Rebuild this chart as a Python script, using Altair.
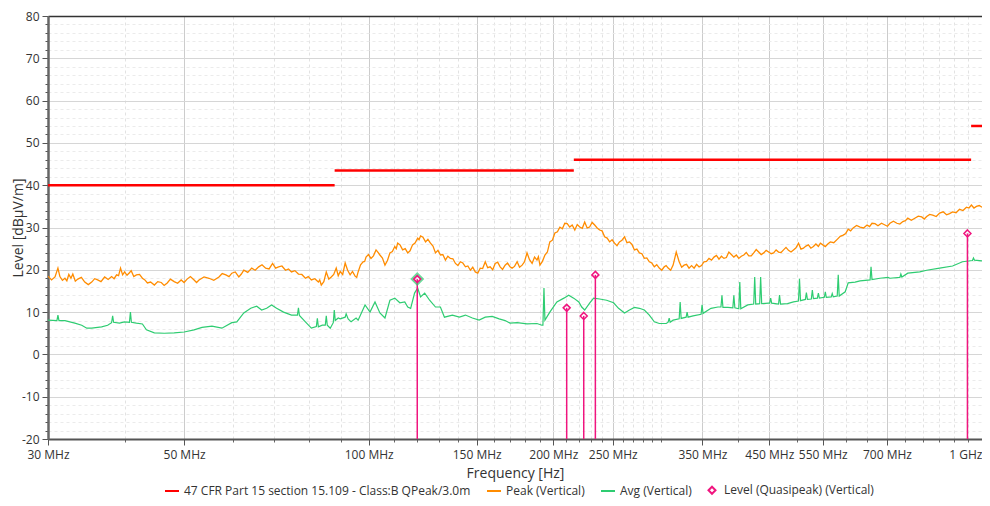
import altair as alt
import pandas as pd

# ---------------- series names / styles ----------------
S_LIM = "47 CFR Part 15 section 15.109 - Class:B QPeak/3.0m"
S_PK = "Peak (Vertical)"
S_AV = "Avg (Vertical)"
S_QP = "Level (Quasipeak) (Vertical)"
series_names = [S_LIM, S_PK, S_AV, S_QP]
series_colors = ["#ff0000", "#ff8c00", "#2ecc71", "#f0157f"]
series_shapes = ["stroke", "stroke", "stroke", "M0,-0.5L0.5,0L0,0.5L-0.5,0Z"]

# ---------------- limit line (MHz, dBuV/m) ----------------
limit_start = [30, 88, 216, 960]
limit_end = [88, 216, 960, 1000]
limit_level = [40.0, 43.5, 46.0, 54.0]

# ---------------- Peak trace (MHz / dBuV/m) ----------------
peak_freq = [
    30.0, 30.4, 30.8, 31.14, 31.37, 31.67, 31.97, 32.2, 32.44, 32.7,
    32.93, 33.24, 33.55, 34.0, 34.44, 34.9, 35.35, 35.75, 36.15, 36.6,
    37.11, 37.6, 38.09, 38.45, 38.81, 39.1, 39.39, 39.7, 40.0, 40.36,
    40.73, 41.0, 41.4, 41.81, 42.3, 42.76, 43.16, 43.57, 44.1, 44.72,
    45.3, 45.9, 46.4, 46.94, 47.5, 48.18, 48.8, 49.46, 50.0, 50.58,
    51.2, 51.92, 52.4, 52.89, 53.9, 54.91, 55.9, 57.0, 57.7, 58.5,
    59.2, 59.82, 60.6, 61.41, 62.0, 62.57, 63.5, 64.46, 65.3, 66.17,
    67.0, 67.92, 68.8, 69.71, 70.5, 71.3, 72.2, 73.18, 74.0, 74.84,
    75.8, 76.82, 77.8, 78.85, 79.7, 80.64, 81.7, 82.78, 83.2, 83.7,
    84.5, 85.28, 86.1, 86.88, 87.7, 88.53, 89.2, 89.86, 90.7, 91.55,
    92.4, 93.27, 94.1, 95.02, 95.6, 96.11, 97.0, 97.92, 98.5, 99.01,
    99.9, 100.87, 101.8, 102.8, 103.5, 104.3, 105.3, 106.3, 107.3, 108.3,
    109.3, 110.3, 110.9, 111.5, 112.5, 113.6, 114.7, 115.8, 116.8, 117.9,
    119.0, 120.2, 120.8, 121.5, 122.6, 123.8, 124.9, 126.1, 127.3, 128.5,
    129.7, 130.9, 132.1, 133.4, 134.6, 135.9, 137.2, 138.5, 139.8, 141.1,
    142.4, 143.8, 145.1, 146.5, 147.8, 149.2, 150.6, 152.0, 153.4, 154.9,
    156.3, 157.8, 159.3, 160.8, 162.3, 163.8, 165.3, 166.9, 168.4, 170.0,
    171.3, 172.9, 174.6, 176.2, 177.9, 179.5, 181.2, 182.9, 184.7, 186.4,
    188.1, 189.1, 190.2, 192.0, 193.8, 195.6, 197.4, 199.3, 201.2, 203.1,
    205.0, 206.9, 208.8, 210.7, 212.7, 214.7, 216.8, 218.8, 220.9, 223.0,
    225.0, 227.1, 229.2, 231.4, 233.6, 235.8, 238.0, 240.2, 242.5, 244.8,
    247.1, 249.4, 251.7, 254.0, 256.4, 258.8, 261.3, 263.7, 266.2, 268.7,
    271.2, 273.7, 276.3, 278.9, 281.5, 284.1, 286.8, 289.5, 292.2, 294.9,
    297.7, 300.5, 303.3, 305.5, 307.8, 310.7, 313.6, 317.3, 320.8, 323.8,
    326.8, 329.8, 332.9, 336.1, 339.3, 342.5, 345.7, 348.9, 352.2, 355.5,
    358.8, 362.2, 365.6, 369.0, 372.5, 376.0, 379.5, 383.0, 386.6, 390.2,
    393.9, 397.6, 401.3, 405.1, 408.9, 412.7, 416.6, 420.5, 424.4, 428.4,
    432.4, 436.5, 440.6, 444.7, 448.9, 453.1, 457.3, 461.6, 465.9, 470.3,
    474.7, 479.1, 483.6, 488.2, 492.8, 497.4, 502.1, 506.8, 511.5, 516.3,
    521.1, 526.0, 531.0, 536.0, 541.0, 545.1, 550.2, 555.3, 560.5, 565.8,
    573.2, 580.7, 587.3, 593.9, 599.5, 605.1, 610.7, 616.4, 624.5, 632.7,
    641.1, 649.5, 655.6, 661.7, 669.2, 676.7, 685.7, 694.7, 701.2, 707.8,
    717.1, 726.4, 734.6, 742.9, 749.9, 756.9, 766.9, 777.0, 787.2, 797.5,
    805.0, 812.5, 821.7, 831.0, 842.0, 853.0, 864.2, 875.5, 885.4, 895.4,
    907.2, 919.1, 931.1, 943.3, 952.2, 961.1, 970.2, 979.3, 989.6, 1000.0,
]
peak_level = [
    18.5, 17.6, 18.3, 20.4, 18.4, 17.5, 18.0, 17.4, 18.9, 18.0,
    19.0, 17.3, 17.8, 18.2, 17.1, 16.5, 17.1, 17.9, 17.6, 17.2,
    18.3, 17.7, 18.4, 17.9, 18.8, 18.6, 20.4, 18.8, 19.5, 18.7,
    19.3, 19.8, 18.4, 18.8, 18.9, 18.0, 17.6, 16.9, 17.1, 16.4,
    17.2, 17.0, 16.3, 16.9, 17.8, 17.2, 16.8, 17.6, 17.0, 17.8,
    18.4, 17.6, 17.0, 17.6, 18.3, 18.0, 17.5, 18.3, 19.1, 18.8,
    18.4, 19.2, 19.5, 18.3, 19.0, 19.9, 19.4, 20.4, 19.9, 20.7,
    21.2, 20.4, 20.2, 21.5, 20.4, 20.7, 20.9, 19.9, 20.2, 19.5,
    19.8, 19.0, 18.9, 18.0, 18.4, 17.6, 17.9, 17.1, 17.6, 16.4,
    17.2, 19.5, 17.8, 18.3, 18.9, 20.4, 18.6, 19.6, 18.9, 21.6,
    19.9, 18.8, 19.6, 18.5, 18.2, 19.5, 21.2, 21.9, 22.0, 23.0,
    23.6, 22.7, 23.3, 24.7, 24.2, 23.5, 22.8, 21.1, 22.2, 24.0,
    24.3, 25.5, 25.0, 26.3, 25.9, 24.7, 25.0, 24.0, 24.5, 25.9,
    26.3, 27.5, 27.1, 28.0, 27.7, 26.6, 27.2, 26.3, 25.6, 24.0,
    24.6, 23.5, 23.6, 22.3, 23.2, 22.7, 22.6, 21.5, 21.0, 21.9,
    21.6, 20.7, 20.9, 19.9, 20.6, 19.5, 19.2, 20.4, 20.3, 21.9,
    20.5, 20.7, 20.0, 21.5, 21.8, 20.7, 20.1, 21.1, 21.6, 20.7,
    20.4, 20.8, 21.9, 20.6, 21.1, 21.9, 24.0, 22.4, 21.5, 23.0,
    22.3, 23.1, 21.1, 22.0, 23.5, 24.2, 26.6, 27.0, 28.7, 29.0,
    30.1, 29.7, 31.0, 30.9, 30.1, 30.6, 29.4, 30.7, 30.1, 29.8,
    31.3, 29.9, 30.1, 31.2, 30.6, 29.9, 29.4, 29.2, 27.8, 27.5,
    26.6, 27.1, 26.3, 25.7, 26.6, 27.0, 27.8, 26.4, 26.6, 26.0,
    24.7, 24.9, 24.0, 23.8, 22.7, 22.8, 21.9, 21.6, 20.7, 21.2,
    20.4, 19.9, 20.7, 21.0, 20.4, 19.9, 21.1, 24.2, 21.9, 20.6,
    21.1, 21.3, 20.4, 21.0, 20.4, 21.3, 20.7, 21.0, 21.9, 22.0,
    22.7, 22.3, 23.0, 23.4, 22.5, 23.2, 22.7, 22.9, 24.2, 23.6,
    23.0, 23.5, 22.7, 23.2, 23.5, 24.1, 23.3, 23.3, 24.0, 24.8,
    24.2, 23.6, 24.0, 24.6, 24.2, 23.8, 24.0, 24.7, 24.2, 24.1,
    24.7, 25.3, 24.6, 24.2, 24.7, 25.2, 26.3, 24.9, 25.1, 25.6,
    25.9, 25.1, 25.5, 26.1, 25.5, 26.3, 25.9, 25.5, 26.1, 26.6,
    26.4, 27.2, 27.9, 28.2, 28.6, 29.6, 29.2, 29.9, 30.5, 30.1,
    29.9, 30.6, 30.2, 31.0, 30.9, 30.4, 31.0, 30.6, 30.3, 31.0,
    31.5, 31.0, 30.8, 31.4, 31.6, 32.2, 31.7, 32.2, 32.7, 32.5,
    32.0, 32.6, 33.1, 32.9, 32.6, 33.4, 33.7, 33.0, 33.3, 33.7,
    33.5, 34.3, 34.0, 34.8, 34.6, 35.3, 34.6, 35.0, 35.2, 34.8,
]

# ---------------- Avg trace (MHz / dBuV/m) ----------------
avg_freq = [
    30.0, 31.02, 31.14, 31.26, 31.97, 33.18, 34.05, 34.7, 35.35, 36.69,
    37.53, 38.09, 38.24, 38.38, 39.24, 39.98, 40.73, 40.88, 41.03, 41.81,
    42.76, 43.41, 44.72, 46.42, 48.18, 50.02, 51.92, 53.49, 55.52, 57.63,
    59.82, 60.95, 62.57, 64.22, 65.68, 66.91, 68.17, 69.45, 70.77, 72.65,
    74.84, 76.53, 76.82, 77.1, 78.85, 80.64, 82.16, 82.47, 82.78, 84.02,
    84.96, 85.28, 85.6, 86.56, 87.55, 87.88, 88.2, 89.19, 89.86, 91.55,
    91.89, 92.58, 93.61, 95.39, 96.11, 98.64, 100.5, 102.4, 104.3, 106.3,
    108.3, 110.3, 112.4, 114.5, 115.8, 117.06, 118.8, 120.2, 121.5, 123.4,
    125.7, 128.5, 130.9, 132.9, 136.9, 140.6, 143.8, 147.6, 151.4, 154.9,
    159.0, 163.2, 166.9, 170.0, 174.6, 181.2, 188.1, 191.6, 192.35, 193.1,
    193.8, 197.4, 202.7, 208.1, 211.9, 215.9, 220.1, 222.5, 225.0, 229.2,
    232.7, 238.0, 244.3, 250.8, 255.5, 261.3, 266.2, 271.2, 276.3, 281.5,
    286.8, 292.2, 297.7, 305.6, 307.8, 309.0, 310.1, 313.6, 320.8, 322.0,
    323.2, 329.3, 330.5, 331.7, 338.0, 348.3, 349.6, 350.9, 361.5, 371.1,
    375.3, 376.7, 378.1, 385.2, 392.4, 393.9, 395.4, 401.3, 402.8, 404.3,
    415.0, 424.4, 426.0, 427.6, 434.0, 435.6, 437.3, 448.9, 450.6, 452.3,
    454.0, 465.9, 467.6, 469.4, 481.8, 492.8, 502.1, 504.0, 505.9, 515.3,
    517.2, 519.2, 526.9, 528.9, 531.0, 539.0, 541.0, 543.0, 553.3, 555.3,
    557.4, 567.8, 569.9, 572.1, 580.7, 582.9, 585.0, 598.4, 605.1, 621.0,
    632.7, 656.9, 659.3, 661.7, 681.8, 702.5, 707.8, 734.7, 737.4, 740.2,
    756.9, 791.6, 812.5, 853.0, 895.4, 929.4, 964.8, 968.4, 972.0, 1000.0,
]
avg_level = [
    8.1, 8.0, 9.3, 8.0, 8.0, 7.4, 6.9, 6.2, 6.2, 6.5,
    6.9, 7.5, 9.1, 7.6, 7.4, 7.7, 7.6, 10.0, 7.6, 7.4,
    7.2, 5.8, 5.1, 5.0, 5.1, 5.3, 5.8, 6.4, 6.7, 6.2,
    7.5, 7.7, 9.8, 10.9, 11.4, 10.5, 10.9, 11.7, 10.9, 10.0,
    9.3, 9.3, 11.0, 9.2, 7.7, 6.2, 6.6, 8.5, 6.5, 6.9,
    6.9, 9.1, 6.9, 6.2, 7.5, 10.5, 8.0, 8.6, 8.4, 8.8,
    9.6, 8.4, 7.7, 8.6, 8.1, 11.7, 10.0, 12.4, 9.8, 8.6,
    12.8, 13.3, 12.2, 12.4, 11.2, 10.9, 14.5, 15.7, 13.6, 14.5,
    12.8, 11.2, 11.2, 8.8, 9.3, 8.8, 9.3, 8.6, 8.1, 8.8,
    9.0, 8.4, 8.0, 7.4, 7.5, 7.2, 7.3, 6.9, 6.9, 15.7,
    8.1, 10.0, 12.4, 13.3, 14.0, 13.3, 12.4, 11.2, 10.5, 12.1,
    13.3, 13.1, 12.8, 12.2, 10.9, 9.8, 10.5, 11.1, 10.9, 10.5,
    9.3, 7.7, 7.3, 7.3, 7.6, 8.6, 7.6, 8.1, 8.4, 12.4,
    8.5, 8.8, 10.0, 8.8, 9.1, 9.5, 11.7, 9.7, 10.9, 11.2,
    11.2, 14.0, 11.1, 11.1, 11.0, 14.0, 11.0, 10.8, 17.1, 10.8,
    11.7, 11.9, 18.3, 11.9, 12.0, 18.3, 12.0, 12.1, 12.1, 13.3,
    12.1, 11.9, 14.0, 11.9, 12.0, 12.4, 12.6, 17.9, 12.7, 13.0,
    14.6, 13.0, 13.1, 15.2, 13.2, 13.3, 14.5, 13.3, 13.5, 14.8,
    13.5, 13.6, 14.4, 13.6, 13.8, 18.8, 13.8, 14.8, 16.9, 17.1,
    17.4, 17.6, 20.7, 17.7, 18.0, 18.2, 18.0, 18.2, 19.0, 18.3,
    19.2, 19.5, 19.9, 20.4, 20.9, 21.9, 22.2, 22.8, 22.3, 22.1,
]

# ---------------- Quasi-peak final measurements ----------------
qp_freq = [120.0, 210.3, 224.2, 234.2, 946.8]
qp_level = [17.8, 11.0, 9.1, 18.8, 28.6]

# ---------------- axis ticks ----------------
x_major = [30, 50, 100, 150, 200, 250, 350, 450, 550, 700, 1000]
x_minor = [40, 60, 70, 80, 90, 110, 120, 130, 140, 160, 170, 180, 190,
           210, 220, 230, 240, 260, 270, 280, 290, 300, 400, 500, 600,
           650, 750, 800, 850, 900, 950]
y_major = [-20, -10, 0, 10, 20, 30, 40, 50, 60, 70, 80]
y_minor = [-18, -16, -14, -12, -8, -6, -4, -2, 2, 4, 6, 8, 12, 14, 16, 18,
           22, 24, 26, 28, 32, 34, 36, 38, 42, 44, 46, 48, 52, 54, 56, 58,
           62, 64, 66, 68, 72, 74, 76, 78]

assert len(peak_freq) == len(peak_level)
assert len(avg_freq) == len(avg_level)

lim_df = pd.DataFrame({"start": limit_start, "end": limit_end, "level": limit_level})
pk_df = pd.DataFrame({"freq": peak_freq, "level": peak_level})
av_df = pd.DataFrame({"freq": avg_freq, "level": avg_level})
qp_df = pd.DataFrame({"freq": qp_freq, "level": qp_level, "series": S_QP})
hl_df = qp_df.head(1)

FONT = "Open Sans"
TXT = "#333333"

xs = alt.Scale(type="log", domain=[30, 1000], nice=False)
ys = alt.Scale(domain=[-20, 80], nice=False)
color_scale = alt.Scale(domain=series_names, range=series_colors)
shape_scale = alt.Scale(domain=series_names, range=series_shapes)

x_minor_axis = alt.Axis(orient="bottom", values=x_minor, labels=False,
                        grid=True, gridColor="#e2e2e2", gridDash=[3, 3],
                        tickSize=3, tickColor="#666666", domain=False, title=None)
y_minor_axis = alt.Axis(orient="left", values=y_minor, labels=False,
                        grid=True, gridColor="#ebebeb", gridDash=[3, 3],
                        tickSize=3, tickColor="#555555", domain=False, title=None)
x_major_axis = alt.Axis(
    orient="bottom", values=x_major,
    labelExpr="datum.value >= 1000 ? '1 GHz' : datum.value + ' MHz'",
    labelAlign={"condition": {"test": "datum.value >= 1000", "value": "right"},
                "value": "center"},
    grid=True, gridColor="#cccccc", tickSize=6, tickColor="#555555",
    domain=True, domainColor="#555555", domainWidth=2,
    labelFont=FONT, labelFontSize=12, labelColor=TXT, labelPadding=4,
    title="Frequency [Hz]", titleFont=FONT, titleFontSize=14,
    titleFontWeight="normal", titleColor=TXT, titlePadding=6)
y_major_axis = alt.Axis(
    orient="left", values=y_major, labelExpr="datum.value + ''",
    grid=True, gridColor="#d6d6d6", tickSize=6, tickColor="#555555",
    domain=True, domainColor="#666666", domainWidth=2.5,
    labelFont=FONT, labelFontSize=12, labelColor=TXT, labelPadding=3,
    title="Level [dBµV/m]", titleFont=FONT, titleFontSize=14,
    titleFontWeight="normal", titleColor=TXT, titlePadding=-4)
top_axis = alt.Axis(orient="top", labels=False, ticks=False, grid=False,
                    domain=True, domainColor="#333333", domainWidth=1.5,
                    title=None)

limit = alt.Chart(lim_df).mark_rule(strokeWidth=2.5, color=series_colors[0]).encode(
    x=alt.X("start:Q", scale=xs, axis=x_minor_axis),
    x2="end:Q",
    y=alt.Y("level:Q", scale=ys, axis=y_minor_axis),
)

peak = alt.Chart(pk_df).mark_line(strokeWidth=1.3, clip=True, color=series_colors[1]).encode(
    x=alt.X("freq:Q", scale=xs, axis=x_major_axis),
    y=alt.Y("level:Q", scale=ys, axis=y_major_axis),
)

avg = alt.Chart(av_df).mark_line(strokeWidth=1.2, clip=True, color=series_colors[2]).encode(
    x=alt.X("freq:Q", scale=xs, axis=None),
    y=alt.Y("level:Q", scale=ys, axis=None),
)

stems = alt.Chart(qp_df).mark_rule(strokeWidth=1.5, color=series_colors[3]).encode(
    x=alt.X("freq:Q", scale=xs, axis=top_axis),
    y=alt.Y("level:Q", scale=ys, axis=None),
    y2=alt.datum(-20),
)

highlight = alt.Chart(hl_df).mark_point(
    shape="diamond", size=110, filled=False, color="#2ecc71", strokeWidth=2.5
).encode(
    x=alt.X("freq:Q", scale=xs, axis=None),
    y=alt.Y("level:Q", scale=ys, axis=None),
)

legend_kw = dict(
    orient="none", legendX=116, legendY=466, direction="horizontal",
    title=None, labelLimit=600, labelFont=FONT, labelFontSize=12,
    labelColor=TXT, symbolSize=196, symbolStrokeWidth=2,
    columnPadding=12, labelOffset=4, padding=0)

qp_points = alt.Chart(qp_df).mark_point(filled=False, size=196, strokeWidth=1.5, opacity=1).encode(
    x=alt.X("freq:Q", scale=xs, axis=None),
    y=alt.Y("level:Q", scale=ys, axis=None),
    color=alt.Color("series:N", scale=color_scale, legend=alt.Legend(**legend_kw)),
    shape=alt.Shape("series:N", scale=shape_scale, legend=alt.Legend(**legend_kw)),
)

chart = alt.layer(limit, peak, avg, stems, highlight, qp_points).resolve_axis(
    x="independent", y="independent"
).properties(
    width=934, height=423,
    autosize=alt.AutoSizeParams(type="none"),
    padding={"left": 40, "top": 8, "right": 0, "bottom": 59},
).configure_view(stroke=None).configure(font=FONT, background="white")

chart.save("out.html", embed_options={"renderer": "svg", "actions": False})
